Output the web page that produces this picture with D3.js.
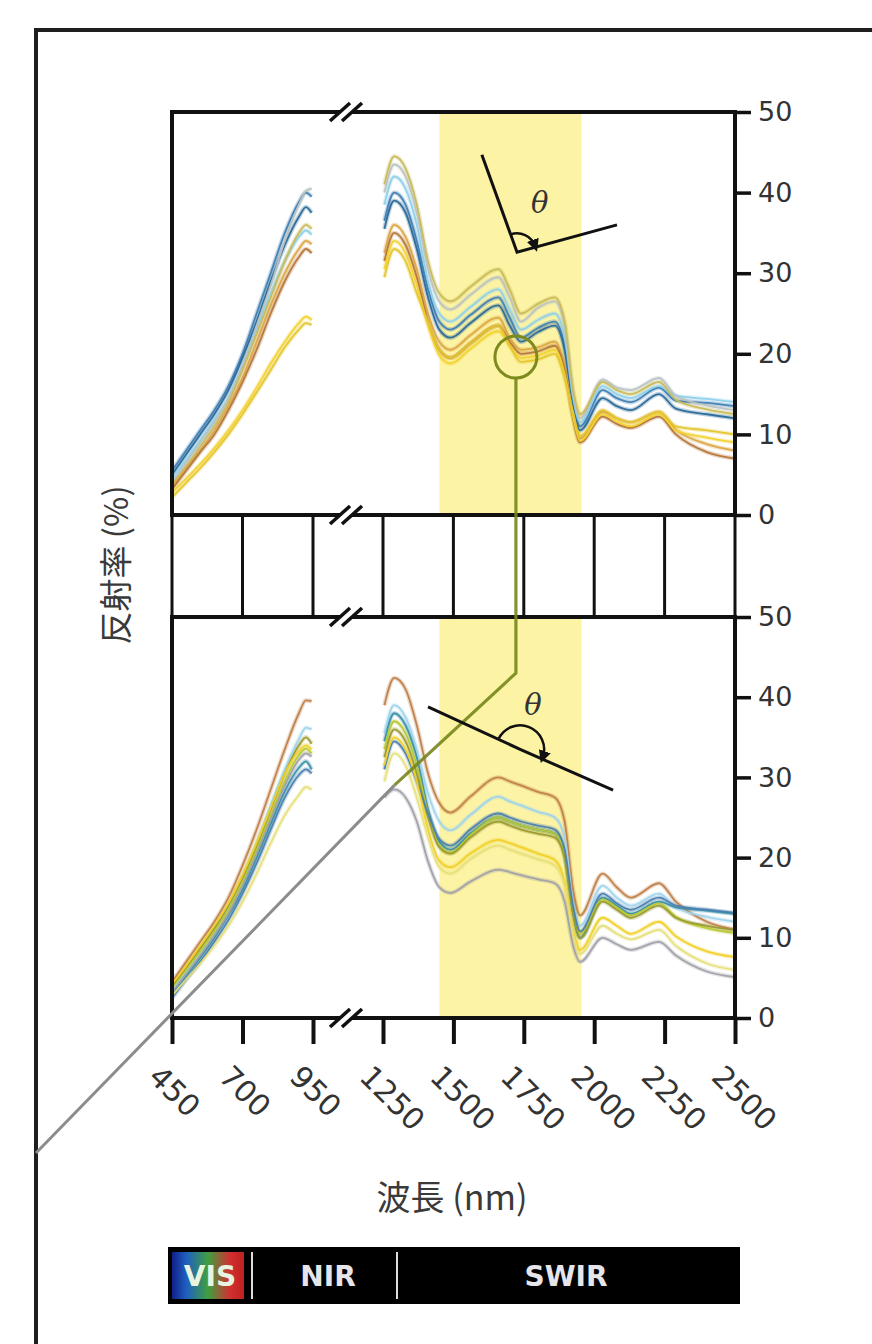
<!DOCTYPE html>
<html>
<head>
<meta charset="utf-8">
<script src="https://cdn.jsdelivr.net/npm/d3@7"></script>
<style>
  body { margin: 0; background: #fff; }
  svg { display: block; }
</style>
</head>
<body>
<svg id="chart" width="872" height="1344"></svg>
<script>
// wavelength grids (nm) for the two measured segments
const wlVis = [450, 500, 550, 600, 650, 700, 750, 800, 850, 900, 925, 945];
const wlSwir = [1255, 1290, 1330, 1370, 1410, 1450, 1490, 1560, 1660, 1700, 1740, 1800,
                1860, 1895, 1925, 1950, 2030, 2080, 2130, 2230, 2290, 2400, 2500];

// upper panel reflectance (%)
const topVis = [
  [5.5, 8, 10.5, 13, 16, 20, 25, 30, 35, 38.8, 40, 39.5],
  [5, 7.5, 10, 12.5, 15.5, 19.5, 24, 29, 33.5, 37, 38.2, 37.5],
  [4.5, 6.8, 9.2, 11.8, 14.5, 18.5, 23, 27.5, 31.5, 34.5, 35.3, 34.8],
  [4, 6.5, 9, 11.5, 14.5, 18.5, 23.5, 28.5, 34, 38.5, 40.2, 40.5],
  [3.8, 6, 8.5, 11, 14, 18, 22.5, 27, 31.5, 35, 36, 35.5],
  [3.5, 5.8, 8, 10.5, 13.5, 17, 21.5, 26, 30, 33, 34, 33.6],
  [3.2, 5.5, 7.8, 10, 13, 16.5, 20.5, 25, 29, 32, 33, 32.5],
  [2.8, 4.5, 6.3, 8.3, 10.5, 13, 15.8, 18.8, 21.5, 23.8, 24.6, 24.2],
  [2.2, 4, 5.8, 7.8, 10, 12.5, 15.2, 18, 20.8, 23, 23.8, 23.6]
];
const topSwir = [
  [36.5, 40, 38.5, 34, 28, 24, 23, 24.8, 27, 24.5, 22, 23.2, 24, 21, 14, 11, 15.5, 14.5, 14, 15.8, 14.2, 13.9, 13.5],
  [35.5, 39, 37.5, 33, 27, 23, 22, 23.8, 26, 23.5, 21.5, 22.7, 23.5, 20.5, 13.5, 10.5, 14.5, 13.5, 13, 15, 13.2, 12.5, 12],
  [38.5, 42, 40.5, 36, 29, 25, 24, 25.8, 28, 25.5, 23, 24.2, 25, 22, 14.5, 11.5, 16, 15, 14.5, 16, 14.8, 14.4, 14],
  [40, 43.5, 42, 37.5, 30.5, 26.5, 25.5, 27.3, 29.5, 27, 24, 25.7, 26.5, 23.5, 15, 12, 16.8, 15.8, 15.5, 17, 14.8, 13.6, 13],
  [41, 44.5, 43, 38.5, 31.5, 27.5, 26.5, 28.3, 30.5, 28, 25, 26.2, 27, 24, 15.5, 12.5, 16.5, 15.5, 15, 16.5, 14.3, 13.1, 12.5],
  [32.5, 36, 34.5, 30.5, 25, 21.5, 20.5, 22.3, 24.5, 22, 20.5, 20.8, 21.5, 18.5, 12.5, 9.5, 12.8, 12, 11.5, 12.8, 10.6, 8.8, 8],
  [31.5, 35, 33.5, 29.5, 24, 20.5, 19.5, 21.3, 23.5, 21.5, 20, 20.3, 21, 18, 12, 9, 12.2, 11.3, 10.8, 12.2, 10, 7.8, 7],
  [30.5, 34, 32.5, 28.5, 23.5, 19.8, 18.8, 20.6, 22.8, 21, 19.5, 19.8, 20.5, 17.5, 12.2, 9.2, 12.5, 11.6, 11, 12.5, 10.5, 9.6, 9],
  [29.5, 33, 31.5, 27.5, 24, 20.5, 19.5, 21.3, 23.5, 21, 19, 19.3, 20, 17, 12.8, 9.8, 13, 12, 11.5, 12.8, 11, 10.5, 10]
];

// lower panel reflectance (%)
const botVis = [
  [4.5, 7, 9.5, 12, 15, 19, 23.5, 28.5, 33.5, 38, 39.6, 39.5],
  [3.5, 5.8, 8.2, 10.8, 13.8, 17.5, 21.8, 26.5, 31, 34.8, 36.2, 36],
  [3, 5.2, 7.5, 10, 12.8, 16, 20, 24.2, 28.3, 31.2, 32, 31],
  [3.8, 6, 8.3, 10.8, 13.5, 17, 21, 25.2, 29.5, 32.8, 33.6, 33],
  [4, 6.3, 8.7, 11.2, 14, 17.5, 21.5, 26, 30.5, 34, 35, 34.2],
  [2.5, 4.8, 7, 9.5, 12.2, 15.5, 19.3, 23.5, 27.5, 30.3, 31, 30.5],
  [4.2, 6.5, 9, 11.5, 14.3, 17.8, 21.8, 26.2, 30.5, 33.3, 34, 33.5],
  [2.8, 4.8, 6.8, 9, 11.5, 14.5, 18, 21.8, 25.3, 27.8, 28.8, 28.5],
  [3.2, 5.5, 7.8, 10.3, 13, 16.5, 20.5, 24.8, 29, 32.2, 33, 32.6]
];
const botSwir = [
  [39, 42.4, 41, 36.5, 30.5, 26.8, 25.6, 27.6, 30, 29.5, 29, 28.2, 27.5, 24.5, 16, 12.8, 18, 16.3, 15, 16.8, 14.5, 12, 11],
  [35.5, 39, 37.5, 33.5, 28, 24.5, 23.4, 25.3, 27.6, 27, 26.5, 25.7, 25, 22.5, 14.5, 11.5, 16.5, 15, 14, 15.5, 13.8, 12.6, 12],
  [34.5, 38, 36.5, 32.5, 26, 22, 21, 23, 25, 24.5, 24, 23.5, 23, 20.5, 13, 10, 15, 14, 13, 14.5, 13.8, 13.4, 13],
  [33.5, 37, 35.5, 31.5, 25.5, 21.5, 20.6, 22.8, 25, 24.5, 24, 23.5, 23, 20.5, 13.5, 10.5, 14.8, 13.8, 12.8, 14.3, 12.6, 11.2, 10.6],
  [32.5, 36, 34.5, 30.5, 25, 21.3, 20.5, 22.5, 24.5, 24, 23.5, 23, 22.5, 20, 13, 10, 14.5, 13.5, 12.5, 14, 12.5, 11.5, 11],
  [31, 34.5, 33, 29.5, 25.5, 22.3, 21.5, 23.5, 25.5, 25, 24.5, 24, 23.5, 21, 14, 10.8, 15.5, 14.3, 13.5, 15, 14, 13.5, 13.1],
  [31.5, 35, 33.5, 29.5, 23.5, 19.6, 18.8, 20.5, 22.2, 21.8, 21.3, 20.5, 19.7, 17, 11, 8.5, 12.5, 11.5, 10.5, 12, 10.2, 8.3, 7.6],
  [29.5, 33, 31.5, 27.5, 22.5, 18.8, 18, 19.8, 21.5, 21, 20.5, 19.8, 19, 16.5, 10.5, 8, 11.5, 10.5, 9.8, 11, 9, 6.8, 6],
  [27.5, 28.5, 27.5, 24.5, 19.5, 16.3, 15.6, 17, 18.5, 18.2, 17.8, 17.3, 16.8, 14.5, 9, 7, 10, 9.2, 8.5, 9.5, 7.8, 5.8, 5.1]
];

const topColors = ["#3f7fb5", "#2a6a98", "#8fd0ea", "#b9c2c2", "#c8bb5a", "#dba545", "#b5773a", "#f2d22e", "#e4c62c"];
const botColors = ["#c0804a", "#9fd4ec", "#3a90a8", "#b8c830", "#9a9a30", "#4a7fb0", "#f0d028", "#e6df7a", "#a0a0a8"];

const xTicks = [450, 700, 950, 1250, 1500, 1750, 2000, 2250, 2500];
const yTicks = [0, 10, 20, 30, 40, 50];
const swirBand = [1450, 1955];
const bandLabels = ["VIS", "NIR", "SWIR"];

// annotation anchors in data units: [nm, %]
const topAngle = { a: [1601, 44.7], v: [1726, 32.6], b: [2081, 36], label: [1807, 38.7] };
const topCircle = [1722, 19.6];
const botAngle = { a: [1410, 38.8], v: [1737, 33.5], b: [2067, 28.4], label: [1783, 39] };

const svg = d3.select("#chart");

const x = d3.scaleLinear().domain([450, 950, 1250, 2500]).range([172, 313, 383, 735]);
const yTop = d3.scaleLinear().domain([0, 50]).range([515, 112]);
const yBot = d3.scaleLinear().domain([0, 50]).range([1018, 617]);

// outer frame
svg.append("path")
  .attr("d", "M36,1344V30H872")
  .attr("fill", "none")
  .attr("stroke", "#1e1e1e")
  .attr("stroke-width", 4);

svg.append("defs").append("marker")
  .attr("id", "arrow")
  .attr("viewBox", "0 0 10 10")
  .attr("refX", 5).attr("refY", 5)
  .attr("markerWidth", 5).attr("markerHeight", 5)
  .attr("orient", "auto")
  .append("path").attr("d", "M0,0L10,5L0,10z").attr("fill", "#111");

function panel(y, visData, swirData, colors) {
  const g = svg.append("g");
  g.append("rect")
    .attr("x", x(swirBand[0])).attr("width", x(swirBand[1]) - x(swirBand[0]))
    .attr("y", y(50)).attr("height", y(0) - y(50))
    .attr("fill", "#fcf3a4");

  const line = d3.line()
    .x(d => x(d[0])).y(d => y(d[1]))
    .curve(d3.curveMonotoneX);

  const series = [];
  visData.forEach((vals, i) => series.push({ pts: wlVis.map((w, j) => [w, vals[j]]), c: colors[i] }));
  swirData.forEach((vals, i) => series.push({ pts: wlSwir.map((w, j) => [w, vals[j]]), c: colors[i] }));

  g.selectAll(".halo").data(series).join("path")
    .attr("d", d => line(d.pts))
    .attr("fill", "none").attr("stroke", d => d.c)
    .attr("stroke-width", 4.5).attr("stroke-opacity", 0.3);
  g.selectAll(".spec").data(series).join("path")
    .attr("class", "spec")
    .attr("d", d => line(d.pts))
    .attr("fill", "none").attr("stroke", d => d.c)
    .attr("stroke-width", 1.8).attr("stroke-opacity", 0.95);

  g.append("rect")
    .attr("x", x(450)).attr("width", x(2500) - x(450))
    .attr("y", y(50)).attr("height", y(0) - y(50))
    .attr("fill", "none").attr("stroke", "#111").attr("stroke-width", 4);

  const ax = g.append("g")
    .attr("transform", `translate(${x(2500)},0)`)
    .call(d3.axisRight(y).tickValues(yTicks).tickSize(16).tickPadding(7).tickFormat(d3.format("d")));
  ax.select(".domain").remove();
  ax.selectAll(".tick line").attr("stroke", "#111").attr("stroke-width", 3.5);
  ax.selectAll(".tick text")
    .attr("fill", "#333")
    .style("font-family", "'DejaVu Sans', Verdana, sans-serif")
    .style("font-size", "27px");
  return g;
}

panel(yTop, topVis, topSwir, topColors);
panel(yBot, botVis, botSwir, botColors);

// connecting strip between the two panels
svg.append("g").selectAll("line").data(xTicks).join("line")
  .attr("x1", d => x(d)).attr("x2", d => x(d))
  .attr("y1", yTop(0)).attr("y2", yBot(50))
  .attr("stroke", "#111").attr("stroke-width", 3);

// bottom x axis
const xa = svg.append("g")
  .attr("transform", `translate(0,${yBot(0)})`)
  .call(d3.axisBottom(x).tickValues(xTicks).tickSize(26).tickFormat(d3.format("d")));
xa.select(".domain").remove();
xa.selectAll(".tick line").attr("stroke", "#111").attr("stroke-width", 4);
xa.selectAll(".tick text")
  .attr("x", 0).attr("y", 0).attr("dy", "0.35em")
  .attr("transform", "translate(-18,53) rotate(45)")
  .style("text-anchor", "start")
  .attr("fill", "#333")
  .style("font-family", "'DejaVu Sans', Verdana, sans-serif")
  .style("font-size", "30px");

// axis breaks
const bx = (x(950) + x(1250)) / 2 - 2;
[yTop(50), yTop(0), yBot(50), yBot(0)].forEach(yy => {
  const b = svg.append("g");
  b.append("path")
    .attr("d", `M${bx - 16},${yy + 8}L${bx + 4},${yy - 8}L${bx + 16},${yy - 8}L${bx - 4},${yy + 8}Z`)
    .attr("fill", "#fff");
  [-6, 6].forEach(o => {
    b.append("line")
      .attr("x1", bx + o - 10).attr("y1", yy + 9)
      .attr("x2", bx + o + 10).attr("y2", yy - 9)
      .attr("stroke", "#111").attr("stroke-width", 3.5);
  });
});

// linked annotation: circle on top spectra to the oblique view below
const cx = x(topCircle[0]), cy = yTop(topCircle[1]);
svg.append("circle")
  .attr("cx", cx).attr("cy", cy).attr("r", 21)
  .attr("fill", "none").attr("stroke", "#7d8a1e").attr("stroke-width", 3);
const kneeY = yBot(43);
const joint = [x(1290), yBot(29)];
svg.append("path")
  .attr("d", `M${cx},${cy + 21}V${kneeY}L${joint[0]},${joint[1]}`)
  .attr("fill", "none").attr("stroke", "#76861c").attr("stroke-width", 3.2).attr("stroke-opacity", 0.9);
svg.append("path")
  .attr("d", `M${joint[0]},${joint[1]}L36,1153`)
  .attr("fill", "none").attr("stroke", "#8c8c8c").attr("stroke-width", 3);

function angleMark(ann, y, r) {
  const p = d => [x(d[0]), y(d[1])];
  const A = p(ann.a), V = p(ann.v), B = p(ann.b);
  const g = svg.append("g");
  g.append("path")
    .attr("d", `M${A}L${V}L${B}`)
    .attr("fill", "none").attr("stroke", "#111").attr("stroke-width", 3);
  const a1 = Math.atan2(A[1] - V[1], A[0] - V[0]);
  let a2 = Math.atan2(B[1] - V[1], B[0] - V[0]);
  if (a2 < a1) a2 += 2 * Math.PI;
  a2 -= 0.08;
  const s = [V[0] + r * Math.cos(a1), V[1] + r * Math.sin(a1)];
  const e = [V[0] + r * Math.cos(a2), V[1] + r * Math.sin(a2)];
  g.append("path")
    .attr("d", `M${s}A${r},${r} 0 0 1 ${e}`)
    .attr("fill", "none").attr("stroke", "#111").attr("stroke-width", 2.5)
    .attr("marker-end", "url(#arrow)");
  const L = p(ann.label);
  g.append("text")
    .attr("x", L[0]).attr("y", L[1])
    .attr("text-anchor", "middle").attr("dominant-baseline", "central")
    .attr("fill", "#333")
    .style("font-family", "'DejaVu Serif', serif")
    .style("font-style", "italic")
    .style("font-size", "29px")
    .text("θ");
}
angleMark(topAngle, yTop, 19);
angleMark(botAngle, yBot, 24);

// axis titles
svg.append("text")
  .attr("transform", "translate(114,565) rotate(-90)")
  .attr("text-anchor", "middle").attr("dominant-baseline", "central")
  .attr("fill", "#3a3a3a")
  .style("font-family", "'Noto Sans CJK JP', sans-serif")
  .style("font-size", "33px")
  .text("反射率 (%)");
svg.append("text")
  .attr("x", 452).attr("y", 1195)
  .attr("text-anchor", "middle").attr("dominant-baseline", "central")
  .attr("fill", "#3a3a3a")
  .style("font-family", "'Noto Sans CJK JP', sans-serif")
  .style("font-size", "34px")
  .text("波長 (nm)");

// spectral region bar
const bar = svg.append("g");
const grad = svg.select("defs").append("linearGradient").attr("id", "vis");
[["0%", "#10208a"], ["20%", "#1f5fc0"], ["50%", "#3fa040"], ["80%", "#d03030"], ["100%", "#c02020"]]
  .forEach(([o, c]) => grad.append("stop").attr("offset", o).attr("stop-color", c));
const barL = x(450) - 4, barR = x(2500) + 5, barT = 1247, barB = 1304;
bar.append("rect").attr("x", barL).attr("y", barT).attr("width", barR - barL).attr("height", barB - barT).attr("fill", "#000");
bar.append("rect").attr("x", barL + 4).attr("y", barT + 5).attr("width", 72).attr("height", barB - barT - 10).attr("fill", "url(#vis)");
[252, 397].forEach(lx => bar.append("line")
  .attr("x1", lx).attr("x2", lx).attr("y1", barT + 5).attr("y2", barB - 5)
  .attr("stroke", "#ddd").attr("stroke-width", 2));
bar.selectAll("text").data(bandLabels).join("text")
  .attr("x", (d, i) => [210, 328, 566][i])
  .attr("y", (barT + barB) / 2 + 1)
  .attr("text-anchor", "middle").attr("dominant-baseline", "central")
  .attr("fill", (d, i) => i === 0 ? "#e8f4e0" : "#e6e6ea")
  .style("font-family", "'DejaVu Sans', Verdana, sans-serif")
  .style("font-weight", "bold")
  .style("font-size", "28px")
  .text(d => d);
</script>
</body>
</html>
